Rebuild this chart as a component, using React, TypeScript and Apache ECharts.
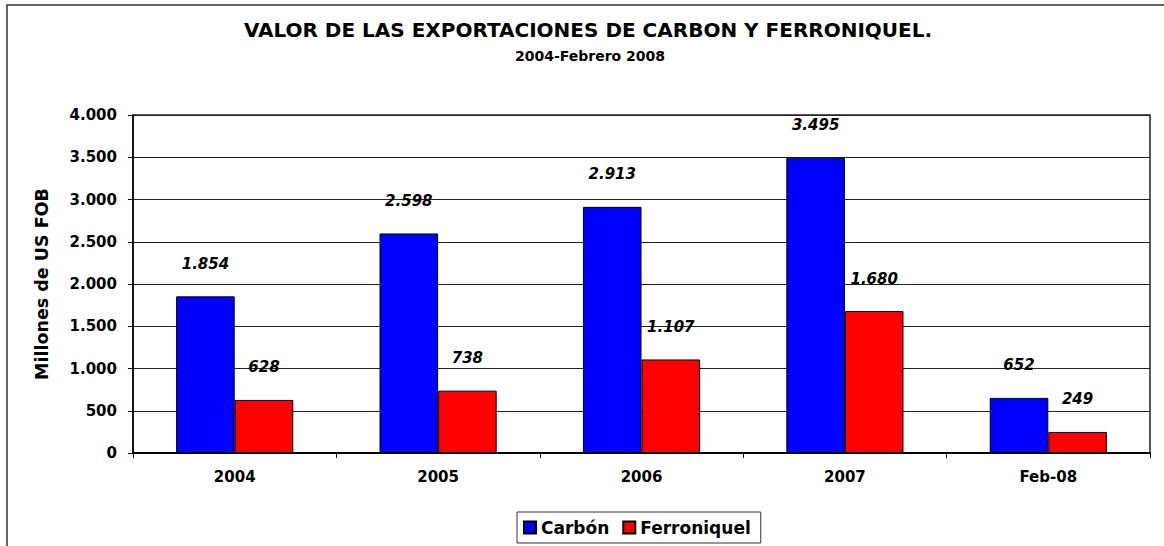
import React, { useEffect, useRef } from "react";
import * as echarts from "echarts";

const categories = ["2004", "2005", "2006", "2007", "Feb-08"];
const carbon = [1854, 2598, 2913, 3495, 652];
const ferroniquel = [628, 738, 1107, 1680, 249];
const yTicks = [0, 500, 1000, 1500, 2000, 2500, 3000, 3500, 4000];

const FONT = "'DejaVu Sans', sans-serif";

function fmt(v: number): string {
  const s = String(Math.round(v));
  return s.replace(/\B(?=(\d{3})+(?!\d))/g, ".");
}

export default function App() {
  const ref = useRef<HTMLDivElement>(null);
  useEffect(() => {
    if (!ref.current) return;
    const chart = echarts.init(ref.current, undefined, { renderer: "svg" });
    const labelStyle = {
      show: true,
      position: "top" as const,
      distance: 25,
      fontFamily: FONT,
      fontSize: 15,
      fontWeight: "bold" as const,
      fontStyle: "italic" as const,
      color: "#000",
      formatter: (p: any) => fmt(p.value),
    };
    chart.setOption({
      animation: false,
      backgroundColor: "#fff",
      title: [
        {
          text: "VALOR DE LAS EXPORTACIONES DE CARBON Y FERRONIQUEL.",
          left: 588,
          textAlign: "center",
          top: 20,
          padding: 0,
          textStyle: { fontFamily: FONT, fontSize: 20, fontWeight: "bold", color: "#000" },
        },
        {
          text: "2004-Febrero 2008",
          left: 590,
          textAlign: "center",
          top: 49,
          padding: 0,
          textStyle: { fontFamily: FONT, fontSize: 14, fontWeight: "bold", color: "#000" },
        },
      ],
      graphic: [
        {
          type: "rect",
          shape: { x: 7, y: 5, width: 1300, height: 700 },
          style: { fill: "none", stroke: "#333", lineWidth: 1.5 },
          silent: true,
          z: -1,
        },
      ],
      legend: {
        left: 517,
        top: 512,
        padding: [7, 10, 7, 6],
        itemWidth: 12,
        itemHeight: 12,
        itemGap: 13,
        borderColor: "#333",
        borderWidth: 1,
        icon: "rect",
        textStyle: { fontFamily: FONT, fontSize: 17, fontWeight: "bold", color: "#000" },
        data: ["Carbón", "Ferroniquel"],
      },
      grid: {
        left: 133,
        right: 14,
        top: 115,
        bottom: 93,
        show: true,
        borderColor: "#222",
        borderWidth: 1.5,
        containLabel: false,
      },
      xAxis: {
        type: "category",
        data: categories,
        axisLine: { lineStyle: { color: "#000", width: 2 } },
        axisTick: { show: true, length: 5, alignWithLabel: false, lineStyle: { color: "#000" } },
        axisLabel: {
          margin: 16,
          fontFamily: FONT,
          fontSize: 15,
          fontWeight: "bold",
          color: "#000",
        },
      },
      yAxis: {
        type: "value",
        min: 0,
        max: 4000,
        interval: 500,
        name: "Millones de US FOB",
        nameLocation: "middle",
        nameRotate: 90,
        nameGap: 82,
        nameTextStyle: { fontFamily: FONT, fontSize: 17.5, fontWeight: "bold", color: "#000" },
        axisLine: { show: true, lineStyle: { color: "#000", width: 1.5 } },
        axisTick: { show: true, length: 5, inside: false, lineStyle: { color: "#000" } },
        splitLine: { show: true, lineStyle: { color: "#222", width: 1 } },
        axisLabel: {
          margin: 16,
          fontFamily: FONT,
          fontSize: 15,
          fontWeight: "bold",
          color: "#000",
          formatter: (v: number) => (yTicks.includes(v) ? fmt(v) : ""),
        },
      },
      series: [
        {
          name: "Carbón",
          type: "bar",
          data: carbon,
          barGap: "0%",
          barCategoryGap: "42.4%",
          itemStyle: { color: "#0000FF", borderColor: "#000", borderWidth: 1 },
          label: labelStyle,
        },
        {
          name: "Ferroniquel",
          type: "bar",
          data: ferroniquel,
          barGap: "0%",
          barCategoryGap: "42.4%",
          itemStyle: { color: "#FF0000", borderColor: "#000", borderWidth: 1 },
          label: labelStyle,
        },
      ],
    });
    return () => chart.dispose();
  }, []);
  return (
    <div
      ref={ref}
      style={{ position: "fixed", left: 0, top: 0, width: 1164, height: 546 }}
    />
  );
}
